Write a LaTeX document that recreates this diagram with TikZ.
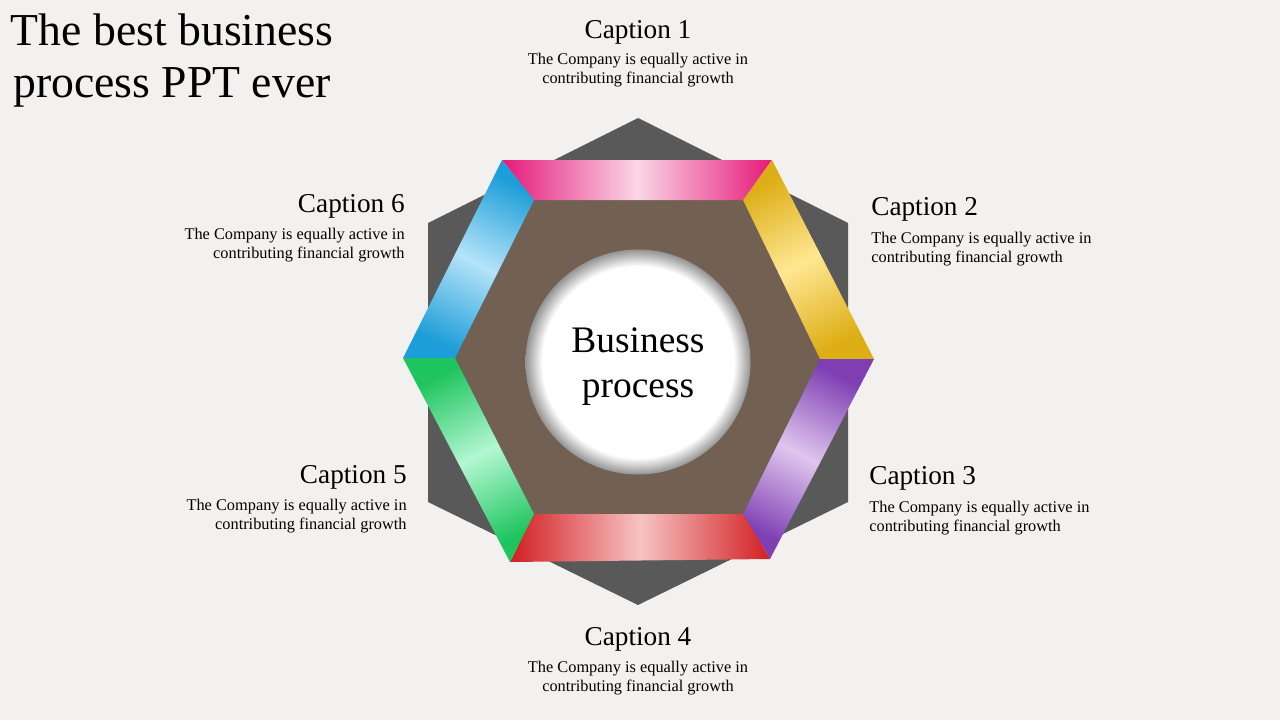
\documentclass[tikz,border=0pt]{standalone}
\usepackage{fontspec}
\setmainfont{Liberation Serif}
\usepackage{tikz}
\usetikzlibrary{positioning}
\definecolor{paper}{HTML}{F2F1EF}
\definecolor{hexgray}{HTML}{595959}
\definecolor{hexbrown}{HTML}{726053}
\definecolor{pinkdark}{HTML}{E5197A}
\definecolor{pinklight}{HTML}{FAD6E6}
\definecolor{golddark}{HTML}{DEAE17}
\definecolor{goldlight}{HTML}{FFE793}
\definecolor{violetdark}{HTML}{7F3FB3}
\definecolor{violetlight}{HTML}{DFC6EE}
\definecolor{reddark}{HTML}{D21E22}
\definecolor{redlight}{HTML}{F7C3C3}
\definecolor{greendark}{HTML}{1EC45E}
\definecolor{greenlight}{HTML}{B3F7D2}
\definecolor{bluedark}{HTML}{1E9ED8}
\definecolor{bluelight}{HTML}{B5E3FA}
\pgfdeclareradialshading{hubshade}{\pgfpointorigin}{%
  color(0bp)=(white); color(21.3bp)=(white); color(25bp)=(black!42); color(50bp)=(black!42)}
\tikzset{%
  title/.style    = {align=center, inner sep=0pt, font=\fontsize{26}{29.6}\selectfont}, % Title
  heading/.style  = {inner sep=0pt, font=\fontsize{15.5}{18}\selectfont}, % Caption
  blurb/.style    = {inner sep=0pt, font=\fontsize{9.3}{10.8}\selectfont}, % Caption text
  hub/.style      = {inner sep=0pt, align=center, font=\fontsize{21.3}{25.6}\selectfont}, % Centre text
  band/.style n args = {3}{left color=#1, right color=#1, middle color=#2, shading angle=#3}
}

\begin{document}
\begin{tikzpicture}[x=0.02cm, y=-0.02cm]

  \fill[paper] (0,0) rectangle (1280,720);
  \useasboundingbox (0,0) rectangle (1280,720);

  % back hexagon
  \fill[hexgray] (638,118) -- (848,223) -- (848,502) -- (638,605) -- (428,502) -- (428,223) -- cycle;

  % band corners, outer and inner
  \coordinate (o1) at (502,160);
  \coordinate (o2) at (772,160);
  \coordinate (o3) at (874,359);
  \coordinate (o4) at (770,559);
  \coordinate (o5) at (510,562);
  \coordinate (o6) at (403,358);
  \coordinate (i1) at (534,200);
  \coordinate (i2) at (743,200);
  \coordinate (i3) at (820,359);
  \coordinate (i4) at (743,514);
  \coordinate (i5) at (534,514);
  \coordinate (i6) at (455,358);

  \fill[hexbrown] (i1) -- (i2) -- (i3) -- (i4) -- (i5) -- (i6) -- cycle;

  \shade[band={pinkdark}{pinklight}{90}] (o1) -- (o2) -- (i2) -- (i1) -- cycle;
  \shade[band={golddark}{goldlight}{27}] (o2) -- (o3) -- (i3) -- (i2) -- cycle;
  \shade[band={violetdark}{violetlight}{-27}] (o3) -- (o4) -- (i4) -- (i3) -- cycle;
  \shade[band={reddark}{redlight}{90}] (o4) -- (o5) -- (i5) -- (i4) -- cycle;
  \shade[band={greendark}{greenlight}{27}] (o5) -- (o6) -- (i6) -- (i5) -- cycle;
  \shade[band={bluedark}{bluelight}{-27}] (o6) -- (o1) -- (i1) -- (i6) -- cycle;

  % centre
  \shade[shading=hubshade] (638,362) circle [radius=112.5];
  \draw node at (638,367) [hub] (hub) {Business\\process};

  % title
  \draw node at (172,61) [title] (title) {The best business\\process PPT ever};

  % captions
  \draw node at (638,38) [heading, anchor=base] (cap1) {Caption 1};
  \draw node at (638,70.5) [blurb, align=center] (txt1) {The Company is equally active in\\contributing financial growth};
  \draw node at (871,215) [heading, anchor=base west] (cap2) {Caption 2};
  \draw node at (871,249) [blurb, align=left, anchor=west] (txt2) {The Company is equally active in\\contributing financial growth};
  \draw node at (869,484) [heading, anchor=base west] (cap3) {Caption 3};
  \draw node at (869,518) [blurb, align=left, anchor=west] (txt3) {The Company is equally active in\\contributing financial growth};
  \draw node at (638,645) [heading, anchor=base] (cap4) {Caption 4};
  \draw node at (638,678) [blurb, align=center] (txt4) {The Company is equally active in\\contributing financial growth};
  \draw node at (407,483) [heading, anchor=base east] (cap5) {Caption 5};
  \draw node at (407,516) [blurb, align=right, anchor=east] (txt5) {The Company is equally active in\\contributing financial growth};
  \draw node at (405,212) [heading, anchor=base east] (cap6) {Caption 6};
  \draw node at (405,245) [blurb, align=right, anchor=east] (txt6) {The Company is equally active in\\contributing financial growth};

\end{tikzpicture}
\end{document}
